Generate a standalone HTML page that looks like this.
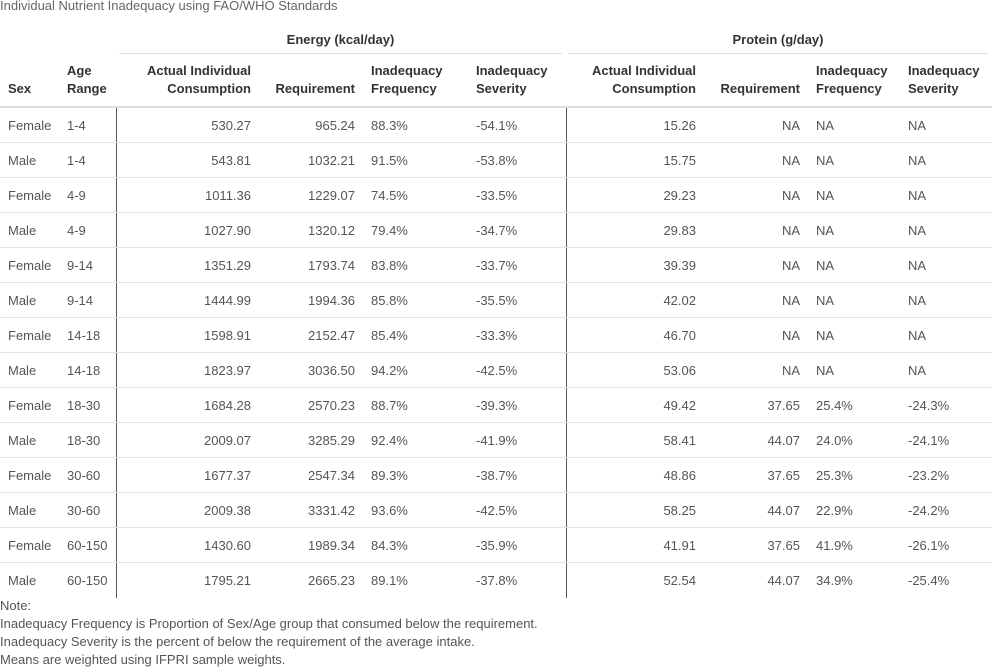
<!DOCTYPE html>
<html><head><meta charset="utf-8"><style>
body{margin:0;width:992px;height:668px;background:#fff;font-family:"Liberation Sans",sans-serif;position:relative;overflow:hidden;color:#555}
div.t{position:absolute;white-space:nowrap;font-size:13px;line-height:16px}
.h{font-weight:bold;color:#333}
.r{text-align:right}
.ln{position:absolute;background:#ddd}
</style></head><body>
<div class="t" style="left:0;top:-2px;color:#666">Individual Nutrient Inadequacy using FAO/WHO Standards</div>
<div class="t h" style="left:119px;width:443px;top:32px;text-align:center">Energy (kcal/day)</div>
<div class="ln" style="left:119px;width:443px;top:53px;height:1px"></div>
<div class="t h" style="left:568px;width:420px;top:32px;text-align:center">Protein (g/day)</div>
<div class="ln" style="left:568px;width:420px;top:53px;height:1px"></div>
<div class="ln" style="left:0;width:992px;top:106px;height:2px"></div>
<div class="ln" style="left:116px;width:1px;top:108px;height:490px;background:#555"></div>
<div class="ln" style="left:566px;width:1px;top:108px;height:490px;background:#555"></div>
<div id="hdr"></div><div id="body"></div>
<div class="t" style="left:0;top:598px">Note:</div>
<div class="t" style="left:0;top:616px">Inadequacy Frequency is Proportion of Sex/Age group that consumed below the requirement.</div>
<div class="t" style="left:0;top:634px">Inadequacy Severity is the percent of below the requirement of the average intake.</div>
<div class="t" style="left:0;top:652px">Means are weighted using IFPRI sample weights.</div>
<script>
const sexes=["Female","Male","Female","Male","Female","Male","Female","Male","Female","Male","Female","Male","Female","Male"];
const ages=["1-4","1-4","4-9","4-9","9-14","9-14","14-18","14-18","18-30","18-30","30-60","30-60","60-150","60-150"];
const eCons=["530.27","543.81","1011.36","1027.90","1351.29","1444.99","1598.91","1823.97","1684.28","2009.07","1677.37","2009.38","1430.60","1795.21"];
const eReq=["965.24","1032.21","1229.07","1320.12","1793.74","1994.36","2152.47","3036.50","2570.23","3285.29","2547.34","3331.42","1989.34","2665.23"];
const eFreq=["88.3%","91.5%","74.5%","79.4%","83.8%","85.8%","85.4%","94.2%","88.7%","92.4%","89.3%","93.6%","84.3%","89.1%"];
const eSev=["-54.1%","-53.8%","-33.5%","-34.7%","-33.7%","-35.5%","-33.3%","-42.5%","-39.3%","-41.9%","-38.7%","-42.5%","-35.9%","-37.8%"];
const pCons=["15.26","15.75","29.23","29.83","39.39","42.02","46.70","53.06","49.42","58.41","48.86","58.25","41.91","52.54"];
const pReq=["NA","NA","NA","NA","NA","NA","NA","NA","37.65","44.07","37.65","44.07","37.65","44.07"];
const pFreq=["NA","NA","NA","NA","NA","NA","NA","NA","25.4%","24.0%","25.3%","22.9%","41.9%","34.9%"];
const pSev=["NA","NA","NA","NA","NA","NA","NA","NA","-24.3%","-24.1%","-23.2%","-24.2%","-26.1%","-25.4%"];
const cols=[[sexes,"l",8,["","Sex"],"sex"],[ages,"l",67,["Age","Range"],"age-range"],
[eCons,"r",251,["Actual Individual","Consumption"],"energy-consumption"],[eReq,"r",355,["","Requirement"],"energy-requirement"],
[eFreq,"l",371,["Inadequacy","Frequency"],"energy-frequency"],[eSev,"l",476,["Inadequacy","Severity"],"energy-severity"],
[pCons,"r",696,["Actual Individual","Consumption"],"protein-consumption"],[pReq,"r",800,["","Requirement"],"protein-requirement"],
[pFreq,"l",816,["Inadequacy","Frequency"],"protein-frequency"],[pSev,"l",908,["Inadequacy","Severity"],"protein-severity"]];
function place(parent,txt,c,top,cls){const d=document.createElement('div');d.className='t '+cls;d.textContent=txt;d.style.top=top+'px';
if(c[1]=="r"){d.style.right=(992-c[2])+'px';d.style.textAlign='right';}else d.style.left=c[2]+'px';parent.appendChild(d);return d;}
const hdr=document.getElementById('hdr'),body=document.getElementById('body');
cols.forEach(c=>{c[3].forEach((l,i)=>{if(!l)return;const d=place(hdr,l,c,63+i*18,'h');

});});
for(let r=0;r<sexes.length;r++){const y=108+r*35;
if(r>0){const ln=document.createElement('div');ln.className='ln';ln.style.cssText='left:0;width:992px;height:1px;top:'+(y-1)+'px;background:#e3e3e3';

body.appendChild(ln);}
cols.forEach(c=>{const d=place(body,c[0][r],c,y+10,'');

});}
</script>
</body></html>
